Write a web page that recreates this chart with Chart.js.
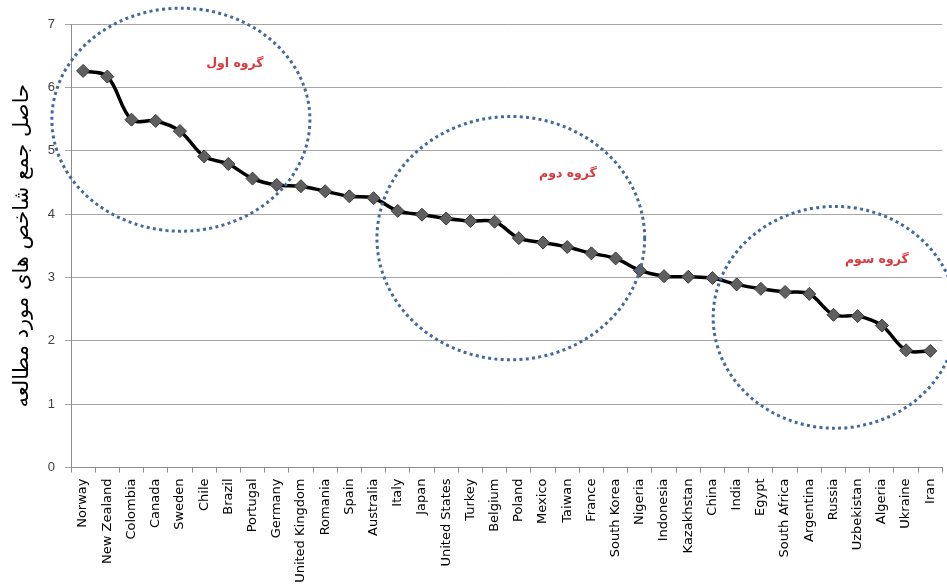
<!DOCTYPE html>
<html>
<head>
<meta charset="utf-8">
<script src="https://cdn.jsdelivr.net/npm/chart.js@4.4.1/dist/chart.umd.min.js"></script>
<style>
  html, body { margin: 0; padding: 0; background: #ffffff; overflow: hidden; }
  #wrap { width: 947px; height: 587px; overflow: hidden; }
</style>
</head>
<body>
<div id="wrap"><canvas id="chart" width="952" height="587"></canvas></div>
<script>
// Countries ranked by their combined index score
const countries = [
  'Norway', 'New Zealand', 'Colombia', 'Canada', 'Sweden', 'Chile', 'Brazil',
  'Portugal', 'Germany', 'United Kingdom', 'Romania', 'Spain', 'Australia',
  'Italy', 'Japan', 'United States', 'Turkey', 'Belgium', 'Poland', 'Mexico',
  'Taiwan', 'France', 'South Korea', 'Nigeria', 'Indonesia', 'Kazakhstan',
  'China', 'India', 'Egypt', 'South Africa', 'Argentina', 'Russia',
  'Uzbekistan', 'Algeria', 'Ukraine', 'Iran'
];

const scores = [
  6.26, 6.17, 5.49, 5.47, 5.31, 4.91, 4.79,
  4.56, 4.46, 4.44, 4.36, 4.28, 4.25,
  4.05, 3.99, 3.93, 3.89, 3.88, 3.62, 3.55,
  3.48, 3.38, 3.30, 3.11, 3.02, 3.01,
  2.99, 2.89, 2.82, 2.77, 2.74, 2.41,
  2.39, 2.24, 1.85, 1.84
];

const yTicks = [0, 1, 2, 3, 4, 5, 6, 7];

const axisTitle = 'حاصل جمع شاخص های مورد مطالعه';
const groupNames = ['گروه اول', 'گروه دوم', 'گروه سوم'];

// Rings around each group, in axis units (category index, score)
const groupRings = [
  { cx: 4.04,  cy: 5.49, rx: 5.33, ry: 1.76 },
  { cx: 17.67, cy: 3.62, rx: 5.53, ry: 1.92 },
  { cx: 31.06, cy: 2.37, rx: 5.03, ry: 1.75 }
];
const groupLabelPos = [
  { x: 6.27,  y: 6.38 },
  { x: 20.03, y: 4.63 },
  { x: 32.79, y: 3.28 }
];

const groupOverlay = {
  id: 'groupOverlay',
  afterDraw(chart) {
    const { ctx } = chart;
    const xs = chart.scales.x, ys = chart.scales.y;
    ctx.save();
    // dotted rings
    ctx.strokeStyle = '#45699b';
    ctx.lineWidth = 3;
    ctx.lineCap = 'butt';
    ctx.setLineDash([3, 3.3]);
    groupRings.forEach(r => {
      const cx = xs.getPixelForValue(r.cx);
      const cy = ys.getPixelForValue(r.cy);
      const rx = Math.abs(xs.getPixelForValue(r.cx + r.rx) - cx);
      const ry = Math.abs(ys.getPixelForValue(r.cy + r.ry) - cy);
      ctx.beginPath();
      ctx.ellipse(cx, cy, rx, ry, 0, 0, Math.PI * 2);
      ctx.stroke();
    });
    ctx.setLineDash([]);
    // group names
    ctx.fillStyle = '#d93a3f';
    ctx.font = 'bold 12.5px "DejaVu Sans"';
    ctx.textAlign = 'center';
    ctx.textBaseline = 'middle';
    ctx.direction = 'rtl';
    groupNames.forEach((name, i) => {
      const p = groupLabelPos[i];
      ctx.fillText(name, xs.getPixelForValue(p.x), ys.getPixelForValue(p.y));
    });
    ctx.restore();
  }
};

new Chart(document.getElementById('chart'), {
  type: 'line',
  data: {
    labels: countries,
    datasets: [{
      data: scores,
      borderColor: '#000000',
      borderWidth: 3.5,
      tension: 0.35,
      fill: false,
      pointStyle: 'rectRot',
      pointRadius: 6.5,
      pointHoverRadius: 6.5,
      pointBackgroundColor: '#5f5f5f',
      pointBorderColor: '#3a3a3a',
      pointBorderWidth: 1
    }]
  },
  options: {
    responsive: false,
    devicePixelRatio: 1,
    animation: false,
    events: [],
    layout: { padding: { top: 24, right: 0, bottom: 0, left: 0 } },
    plugins: {
      legend: { display: false },
      tooltip: { enabled: false }
    },
    scales: {
      x: {
        type: 'category',
        offset: true,
        grid: {
          offset: true,
          drawOnChartArea: false,
          drawTicks: true,
          tickLength: 5,
          color: '#8c8c8c'
        },
        border: { color: '#8c8c8c', width: 1 },
        ticks: {
          autoSkip: false,
          minRotation: 90,
          maxRotation: 90,
          padding: 6,
          color: '#000000',
          font: { family: '"DejaVu Sans"', size: 13 }
        },
        afterFit(scale) {
          scale.height = 119.5;
        }
      },
      y: {
        min: 0,
        max: 7,
        afterBuildTicks(scale) {
          scale.ticks = yTicks.map(v => ({ value: v }));
        },
        grid: {
          color: '#a6a6a6',
          lineWidth: 1,
          drawTicks: true,
          tickLength: 6
        },
        border: { color: '#8c8c8c', width: 1 },
        ticks: {
          padding: 10,
          color: '#404040',
          font: { family: '"Liberation Sans"', size: 13 }
        },
        title: {
          display: true,
          text: axisTitle,
          color: '#000000',
          font: { family: '"DejaVu Sans"', size: 21 },
          padding: { top: 10, bottom: 0 }
        },
        afterFit(scale) {
          scale.width = 71;
        }
      }
    }
  },
  plugins: [groupOverlay]
});
</script>
</body>
</html>
